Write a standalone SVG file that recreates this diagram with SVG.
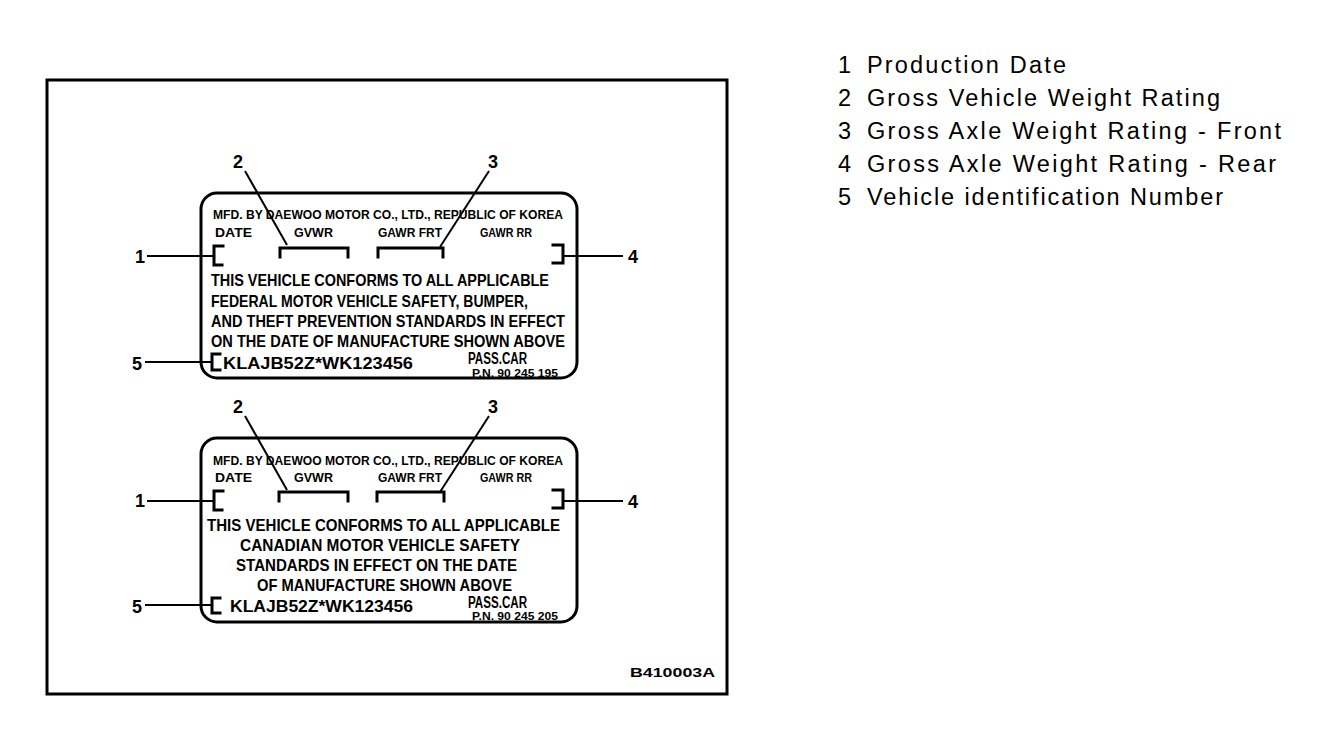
<svg xmlns="http://www.w3.org/2000/svg" width="1328" height="732" viewBox="0 0 1328 732">
<style>
.frame{fill:none;stroke:#000;stroke-width:3}
.box{fill:none;stroke:#000;stroke-width:3}
.br{fill:none;stroke:#000;stroke-width:3;stroke-linecap:square}
.ld{fill:none;stroke:#000;stroke-width:2}
.t{font-family:"Liberation Sans",Arial,sans-serif;font-weight:bold;fill:#000}
.hd{font-size:13px}
.sm{font-size:12px}
.bd{font-size:16.5px}
.vin{font-size:17px}
.pc{font-size:16px}
.pn{font-size:10.5px}
.num{font-family:"Liberation Sans",Arial,sans-serif;font-weight:bold;font-size:18px;fill:#000}
.lg{font-family:"Liberation Sans",Arial,sans-serif;font-size:23.5px;fill:#000}
</style>
<rect width="1328" height="732" fill="#fff"/>
<g id="frame">
<rect class="frame" x="47" y="80" width="680" height="614"/>
<text class="t sm" x="630" y="677" textLength="85" lengthAdjust="spacingAndGlyphs">B410003A</text>
</g>
<g id="label-us">
<rect class="box" x="201" y="193" width="376" height="185" rx="16"/>
<text class="t hd" x="213" y="219" textLength="350" lengthAdjust="spacingAndGlyphs">MFD. BY DAEWOO MOTOR CO., LTD., REPUBLIC OF KOREA</text>
<text class="t sm" x="215" y="237" textLength="37" lengthAdjust="spacingAndGlyphs">DATE</text>
<text class="t sm" x="294" y="237" textLength="39" lengthAdjust="spacingAndGlyphs">GVWR</text>
<text class="t sm" x="378" y="237" textLength="64" lengthAdjust="spacingAndGlyphs">GAWR FRT</text>
<text class="t sm" x="480" y="237" textLength="52" lengthAdjust="spacingAndGlyphs">GAWR RR</text>
<path class="br" d="M223 246 H214 V265 H222"/>
<path class="br" d="M280 257 V248 H348 V257"/>
<path class="br" d="M378 257 V248 H443 V257"/>
<path class="br" d="M553 245 H563 V263 H553"/>
<text class="t bd" x="211" y="286" textLength="338" lengthAdjust="spacingAndGlyphs">THIS VEHICLE CONFORMS TO ALL APPLICABLE</text>
<text class="t bd" x="211" y="307" textLength="317" lengthAdjust="spacingAndGlyphs">FEDERAL MOTOR VEHICLE SAFETY, BUMPER,</text>
<text class="t bd" x="211" y="327" textLength="354" lengthAdjust="spacingAndGlyphs">AND THEFT PREVENTION STANDARDS IN EFFECT</text>
<text class="t bd" x="211" y="347" textLength="354" lengthAdjust="spacingAndGlyphs">ON THE DATE OF MANUFACTURE SHOWN ABOVE</text>
<path class="br" d="M220 354 H212 V370 H220"/>
<text class="t vin" x="223" y="369" textLength="190" lengthAdjust="spacingAndGlyphs">KLAJB52Z*WK123456</text>
<text class="t pc" x="468" y="364" textLength="59" lengthAdjust="spacingAndGlyphs">PASS.CAR</text>
<text class="t pn" x="472" y="377" textLength="86" lengthAdjust="spacingAndGlyphs">P.N. 90 245 195</text>
</g>
<g id="label-ca">
<rect class="box" x="201" y="438" width="376" height="184" rx="16"/>
<text class="t hd" x="213" y="465" textLength="350" lengthAdjust="spacingAndGlyphs">MFD. BY DAEWOO MOTOR CO., LTD., REPUBLIC OF KOREA</text>
<text class="t sm" x="215" y="482" textLength="37" lengthAdjust="spacingAndGlyphs">DATE</text>
<text class="t sm" x="294" y="482" textLength="39" lengthAdjust="spacingAndGlyphs">GVWR</text>
<text class="t sm" x="378" y="482" textLength="64" lengthAdjust="spacingAndGlyphs">GAWR FRT</text>
<text class="t sm" x="480" y="482" textLength="52" lengthAdjust="spacingAndGlyphs">GAWR RR</text>
<path class="br" d="M223 491 H214 V510 H222"/>
<path class="br" d="M279 501 V492 H348 V501"/>
<path class="br" d="M377 501 V492 H444 V501"/>
<path class="br" d="M553 490 H563 V508 H553"/>
<text class="t bd" x="207" y="531" textLength="353" lengthAdjust="spacingAndGlyphs">THIS VEHICLE CONFORMS TO ALL APPLICABLE</text>
<text class="t bd" x="240" y="551" textLength="280" lengthAdjust="spacingAndGlyphs">CANADIAN MOTOR VEHICLE SAFETY</text>
<text class="t bd" x="236" y="571" textLength="281" lengthAdjust="spacingAndGlyphs">STANDARDS IN EFFECT ON THE DATE</text>
<text class="t bd" x="257" y="591" textLength="255" lengthAdjust="spacingAndGlyphs">OF MANUFACTURE SHOWN ABOVE</text>
<path class="br" d="M220 598 H212 V613 H220"/>
<text class="t vin" x="230" y="612" textLength="183" lengthAdjust="spacingAndGlyphs">KLAJB52Z*WK123456</text>
<text class="t pc" x="468" y="608" textLength="59" lengthAdjust="spacingAndGlyphs">PASS.CAR</text>
<text class="t pn" x="472" y="620" textLength="86" lengthAdjust="spacingAndGlyphs">P.N. 90 245 205</text>
</g>
<g id="callouts">
<text class="num" x="135" y="263">1</text>
<text class="num" x="233" y="168">2</text>
<text class="num" x="488" y="168">3</text>
<text class="num" x="628" y="263">4</text>
<text class="num" x="132" y="370">5</text>
<text class="num" x="135" y="507">1</text>
<text class="num" x="233" y="413">2</text>
<text class="num" x="488" y="413">3</text>
<text class="num" x="628" y="508">4</text>
<text class="num" x="132" y="613">5</text>
</g>
<g id="connectors">
<line class="ld" x1="147" y1="256" x2="214" y2="256"/>
<line class="ld" x1="245" y1="171" x2="287" y2="245"/>
<line class="ld" x1="489" y1="171" x2="440" y2="247"/>
<line class="ld" x1="563" y1="256" x2="623" y2="256"/>
<line class="ld" x1="145" y1="362" x2="212" y2="362"/>
<line class="ld" x1="147" y1="501" x2="214" y2="501"/>
<line class="ld" x1="245" y1="416" x2="287" y2="490"/>
<line class="ld" x1="489" y1="416" x2="440" y2="492"/>
<line class="ld" x1="563" y1="501" x2="623" y2="501"/>
<line class="ld" x1="145" y1="605" x2="212" y2="605"/>
</g>
<g id="legend">
<text class="lg" x="838" y="73">1</text>
<text class="lg" x="867" y="73" textLength="199">Production Date</text>
<text class="lg" x="838" y="106">2</text>
<text class="lg" x="867" y="106" textLength="353">Gross Vehicle Weight Rating</text>
<text class="lg" x="838" y="139">3</text>
<text class="lg" x="867" y="139" textLength="414">Gross Axle Weight Rating - Front</text>
<text class="lg" x="838" y="172">4</text>
<text class="lg" x="867" y="172" textLength="409">Gross Axle Weight Rating - Rear</text>
<text class="lg" x="838" y="205">5</text>
<text class="lg" x="867" y="205" textLength="356">Vehicle identification Number</text>
</g>
</svg>
